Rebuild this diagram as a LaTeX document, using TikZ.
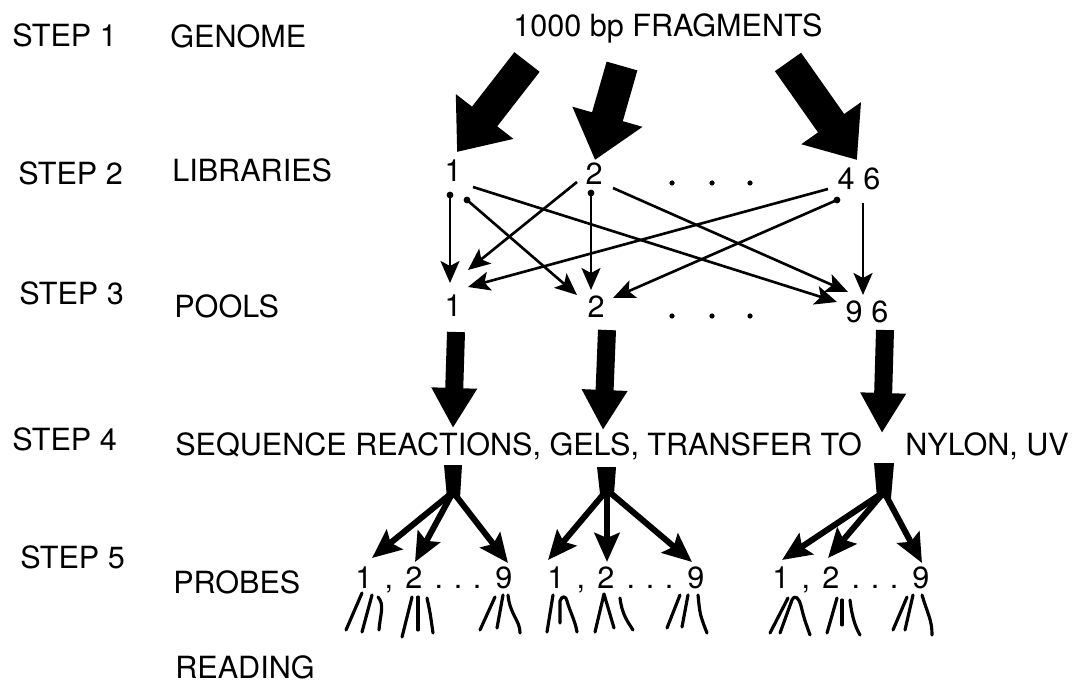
\documentclass[tikz,border=0pt]{standalone}
\usepackage{fontspec}
\setmainfont{TeX Gyre Heros}
\usetikzlibrary{arrows.meta}
\newcommand{\probetext}{1\kern7pt,\kern7pt2\kern7pt.\kern6pt.\kern6pt.\kern8pt9}
\begin{document}
\begin{tikzpicture}[x=0.02cm,y=-0.02cm,
  lbl/.style={font=\fontsize{17.4}{20}\selectfont, inner sep=0pt, anchor=base west},
  num/.style={font=\fontsize{17.4}{20}\selectfont, inner sep=0pt, anchor=base},
  bigtop/.style={line width=0.64cm, -{Triangle[length=0.9cm,width=1.4cm]}},
  bigdown/.style={line width=0.36cm, -{Triangle[length=0.8cm,width=0.86cm]}},
  branch/.style={line width=0.12cm, -{Stealth[length=0.58cm,width=0.5cm,inset=0.1cm]}},
  thin/.style={line width=1.5pt, -{Stealth[length=0.44cm,width=0.38cm,inset=0.1cm]}},
  fan/.style={line width=1.8pt, line cap=round, line join=round},
  startdot/.style={fill=black, draw=none},
  dotsty/.style={fill=black, draw=none}]
\fill[white] (0,0) rectangle (1074,685);
\useasboundingbox (0,0) rectangle (1074,685);

% left labels
\node[lbl] (s1) at (12,47) {STEP 1};
\node[lbl] (g) at (170,48) {GENOME};
\node[lbl] (s2) at (18,185) {STEP 2};
\node[lbl] (lib) at (172,182) {LIBRARIES};
\node[lbl] (s3) at (19,305) {STEP 3};
\node[lbl] (pools) at (174,318) {POOLS};
\node[lbl] (s4) at (12,450) {STEP 4};
\node[lbl] (seq) at (175,455) {SEQUENCE REACTIONS, GELS, TRANSFER TO};
\node[lbl] (nylon) at (905,455) {NYLON, UV};
\node[lbl] (s5) at (20,568) {STEP 5};
\node[lbl] (probes) at (173,593) {PROBES};
\node[lbl] (reading) at (175,678) {READING};

% top
\node[lbl] (frag) at (513,37) {1000 bp FRAGMENTS};

% libraries
\node[num] (L1) at (453,182) {1};
\node[num] (L2) at (594,185) {2};
\node[num] (L46) at (859,190) {4\kern5pt6};
\foreach \x in {672,712,750} \fill[dotsty] (\x,183) circle (2.6);

% pools
\node[num] (P1) at (453,317) {1};
\node[num] (P2) at (596,318) {2};
\node[num] (P96) at (867,323) {9\kern5pt6};
\foreach \x in {672,712,750} \fill[dotsty] (\x,316) circle (2.6);

% big top arrows
\coordinate (ta1) at (527,62); \coordinate (tb1) at (457,152);
\coordinate (ta2) at (622,66); \coordinate (tb2) at (595,160);
\coordinate (ta3) at (788,62); \coordinate (tb3) at (857,160);
\draw[bigtop] (ta1) -- (tb1);
\draw[bigtop] (ta2) -- (tb2);
\draw[bigtop] (ta3) -- (tb3);

% thin arrows libraries -> pools
\coordinate (a11) at (450,195); \coordinate (b11) at (450,283);
\coordinate (a196) at (473,187); \coordinate (b196) at (837,302);
\coordinate (a12) at (467,200); \coordinate (b12) at (577,295);
\coordinate (a21) at (577,182); \coordinate (b21) at (468,270);
\coordinate (a22) at (591,193); \coordinate (b22) at (591,290);
\coordinate (a296) at (613,188); \coordinate (b296) at (848,292);
\coordinate (a461) at (828,189); \coordinate (b461) at (468,287);
\coordinate (a462) at (837,200); \coordinate (b462) at (613,298);
\coordinate (a4696) at (863,203); \coordinate (b4696) at (863,295);
\draw[thin] (a11) -- (b11);
\draw[thin] (a196) -- (b196);
\draw[thin] (a12) -- (b12);
\draw[thin] (a21) -- (b21);
\draw[thin] (a22) -- (b22);
\draw[thin] (a296) -- (b296);
\draw[thin] (a461) -- (b461);
\draw[thin] (a462) -- (b462);
\draw[thin] (a4696) -- (b4696);
\foreach \c in {a11,a12,a22,a462} \fill[startdot] (\c) circle (3.4);

% pools -> step 4
\coordinate (da1) at (456,332); \coordinate (db1) at (453,428);
\coordinate (da2) at (607,330); \coordinate (db2) at (603,430);
\coordinate (da3) at (885,330); \coordinate (db3) at (882,433);
\draw[bigdown] (da1) -- (db1);
\draw[bigdown] (da2) -- (db2);
\draw[bigdown] (da3) -- (db3);

% step 4 -> 5 trees
\fill (444,465) -- (462,465) -- (460,498) -- (447,498) -- cycle;
\fill (597,467) -- (616,467) -- (614,494) -- (600,494) -- cycle;
\fill (874,463) -- (894,463) -- (891,498) -- (877,498) -- cycle;
\coordinate (r1) at (453,492);
\coordinate (r2) at (607,490);
\coordinate (r3) at (884,492);
\coordinate (t11) at (372,558); \coordinate (t12) at (415,562); \coordinate (t13) at (508,563);
\coordinate (t21) at (548,560); \coordinate (t22) at (607,562); \coordinate (t23) at (692,562);
\coordinate (t31) at (782,560); \coordinate (t32) at (828,558); \coordinate (t33) at (922,563);
\foreach \r/\t in {r1/t11,r1/t12,r1/t13,r2/t21,r2/t22,r2/t23,r3/t31,r3/t32,r3/t33}
  \draw[branch] (\r) -- (\t);

% probe labels
\node[lbl] (pr1) at (355,588) {\probetext};
\node[lbl] (pr2) at (547,588) {\probetext};
\node[lbl] (pr3) at (772,588) {\probetext};

% fans - left group
\draw[fan] (362,593) -- (346,630);
\draw[fan] (372,595) -- (362,632);
\draw[fan] (378,597) .. controls (385,605) and (380,615) .. (379,630);
\draw[fan] (412,597) -- (402,637);
\draw[fan] (418,597) -- (418,630);
\draw[fan] (427,598) .. controls (430,612) .. (433,633);
\draw[fan] (495,597) -- (480,630);
\draw[fan] (503,595) -- (497,628);
\draw[fan] (508,595) .. controls (510,615) and (520,620) .. (520,633);
% fans - middle group
\draw[fan] (553,595) -- (547,632);
\draw[fan] (560,623) -- (560,601) .. controls (562,595) and (566,596) .. (567,601) .. controls (570,612) and (575,620) .. (577,632);
\draw[fan] (595,632) -- (604,594) -- (614,628);
\draw[fan] (620,598) .. controls (622,615) and (628,622) .. (633,630);
\draw[fan] (680,595) -- (667,628);
\draw[fan] (688,595) -- (682,627);
\draw[fan] (698,595) .. controls (700,615) .. (707,633);
% fans - right group
\draw[fan] (788,598) -- (770,633);
\draw[fan] (780,633) -- (792,600) .. controls (795,594) and (799,598) .. (801,606) .. controls (804,618) .. (810,635);
\draw[fan] (837,598) -- (827,633);
\draw[fan] (842,600) -- (842,625);
\draw[fan] (850,600) .. controls (852,618) and (856,628) .. (860,635);
\draw[fan] (907,597) -- (893,630);
\draw[fan] (913,595) -- (905,630);
\draw[fan] (922,595) .. controls (928,615) and (932,620) .. (932,635);
\end{tikzpicture}
\end{document}
